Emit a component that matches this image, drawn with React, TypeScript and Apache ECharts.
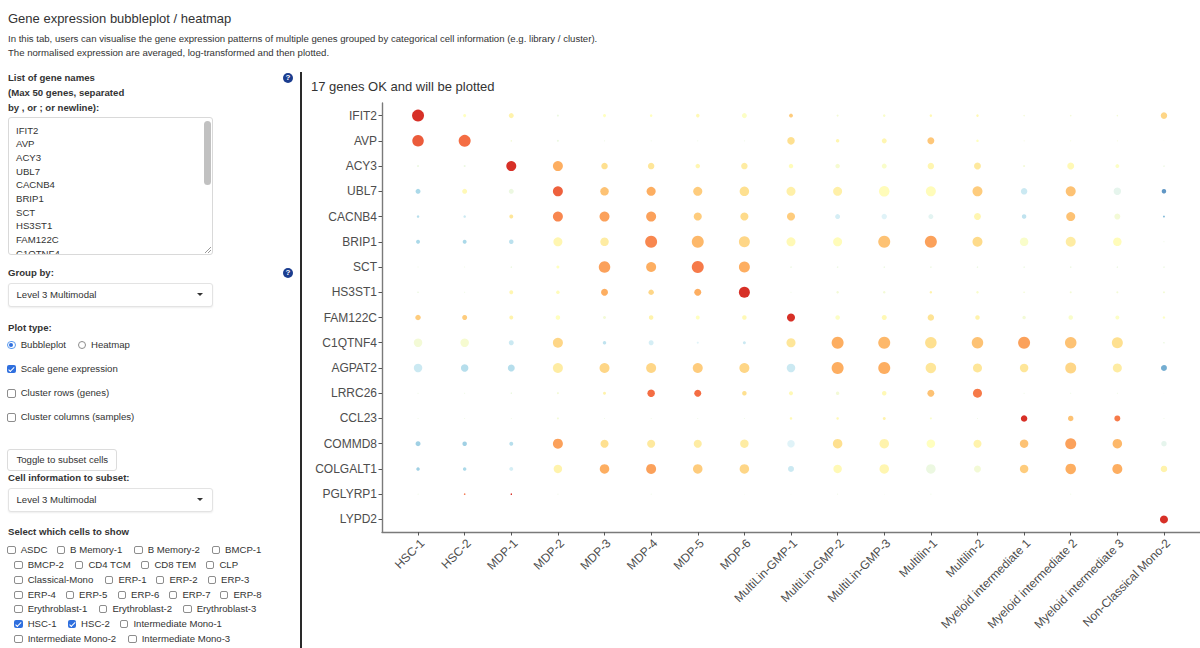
import React, { useEffect, useRef } from "react";
import * as echarts from "echarts";

// ---------------- DATA ----------------
const genes = ["IFIT2", "AVP", "ACY3", "UBL7", "CACNB4", "BRIP1", "SCT", "HS3ST1", "FAM122C", "C1QTNF4", "AGPAT2", "LRRC26", "CCL23", "COMMD8", "COLGALT1", "PGLYRP1", "LYPD2"];
const cells = ["HSC-1", "HSC-2", "MDP-1", "MDP-2", "MDP-3", "MDP-4", "MDP-5", "MDP-6", "MultiLin-GMP-1", "MultiLin-GMP-2", "MultiLin-GMP-3", "Multilin-1", "Multilin-2", "Myeloid intermediate 1", "Myeloid intermediate 2", "Myeloid intermediate 3", "Non-Classical Mono-2"];

// percent of cells expressing (bubble size), per gene, in cell order
const pctIFIT2 = [92, 5.8, 16, 2.6, 5.8, 4, 7.8, 16, 10, 2.6, 4, 4, 4, 1.4, 1.4, 1.4, 27];
const pctAVP = [85, 92, 1.4, 2.6, 0.6, 0.6, 0.6, 0.6, 36, 7.8, 16, 31, 4, 0.6, 0.6, 0.6, 0.2];
const pctACY3 = [2.6, 2.6, 64, 64, 27, 27, 13, 27, 13, 13, 16, 27, 31, 2.6, 31, 10, 1.4];
const pctUBL7 = [16, 16, 16, 64, 46, 52, 52, 58, 52, 52, 71, 64, 64, 27, 64, 36, 13];
const pctCACNB4 = [4, 4, 10, 64, 64, 64, 41, 41, 41, 16, 19, 16, 31, 13, 52, 23, 2.6];
const pctBRIP1 = [10, 10, 13, 52, 46, 92, 92, 77, 52, 52, 92, 92, 64, 46, 64, 46, 0.6];
const pctSCT = [0.6, 0.6, 1.4, 5.8, 85, 64, 92, 77, 1.4, 1.4, 1.4, 1.4, 1.4, 1.4, 1.4, 1.4, 1.4];
const pctHS3ST1 = [1.4, 0.6, 10, 7.8, 31, 19, 31, 77, 0.6, 4, 4, 4, 4, 1.4, 2.6, 2.6, 2.6];
const pctFAM122C = [19, 16, 10, 13, 5.8, 13, 10, 13, 41, 13, 16, 27, 13, 7.8, 13, 10, 4];
const pctC1QTNF4 = [46, 46, 16, 64, 7.8, 16, 2.6, 5.8, 52, 92, 92, 85, 85, 92, 85, 77, 1.4];
const pctAGPAT2 = [46, 36, 31, 64, 64, 64, 64, 64, 46, 92, 92, 71, 52, 46, 77, 52, 23];
const pctLRRC26 = [0.6, 0.6, 1.4, 2.6, 5.8, 36, 31, 13, 10, 7.8, 13, 31, 52, 0.6, 0.6, 0.6, 0.2];
const pctCCL23 = [0.6, 0.6, 0.6, 2.6, 0.6, 0.6, 0.6, 0.6, 4, 4, 5.8, 2.6, 0.6, 27, 19, 23, 0.6];
const pctCOMMD8 = [16, 13, 10, 64, 41, 41, 41, 46, 36, 58, 58, 46, 41, 46, 77, 58, 19];
const pctCOLGALT1 = [7.8, 7.8, 10, 46, 58, 64, 58, 58, 23, 46, 58, 58, 31, 46, 71, 64, 27];
const pctPGLYRP1 = [0.6, 1.4, 1.4, 0.6, 0, 0.6, 0, 0.2, 0.2, 0.6, 0.2, 0.6, 0, 0, 0.6, 0, 0];
const pctLYPD2 = [0, 0, 0, 0, 0, 0, 0, 0, 0, 0, 0, 0, 0, 0, 0, 0, 41];

// scaled average expression (colour), per gene, in cell order
const zIFIT2 = [2.0, 0.0, 0.2, -0.3, 0.0, 0.0, 0.1, -0.05, 0.7, -0.2, -0.1, 0.1, 0.1, -0.2, -0.2, -0.2, 0.6];
const zAVP = [1.65, 1.5, -0.2, -0.3, -0.3, -0.3, -0.3, -0.3, 0.5, 0.15, 0.15, 0.75, 0.0, -0.2, -0.2, -0.2, -0.3];
const zACY3 = [-0.3, -0.3, 2.0, 1.0, 0.5, 0.4, 0.15, 0.3, 0.05, -0.15, -0.1, 0.15, 0.35, -0.2, 0.1, -0.05, -0.3];
const zUBL7 = [-1.0, 0.1, -0.3, 1.6, 0.8, 1.0, 0.7, 0.5, 0.25, 0.25, 0.05, 0.05, 0.7, -0.7, 0.8, -0.4, -1.7];
const zCACNB4 = [-0.9, -0.7, 0.4, 1.3, 1.1, 1.1, 0.7, 0.55, 0.7, -0.6, -0.5, -0.45, 0.15, -0.8, 0.8, -0.2, -1.3];
const zBRIP1 = [-1.0, -1.0, -0.85, 0.15, 0.3, 1.3, 0.9, 0.6, 0.1, 0.05, 0.8, 1.1, 0.55, -0.1, 0.3, 0.05, -0.3];
const zSCT = [-0.3, -0.3, -0.3, 0.0, 1.1, 1.0, 1.4, 1.0, -0.3, -0.3, -0.3, -0.3, -0.3, -0.3, -0.3, -0.3, -0.3];
const zHS3ST1 = [-0.3, -0.3, 0.15, 0.05, 1.0, 0.6, 1.0, 2.0, -0.3, -0.2, -0.2, 0.2, -0.1, -0.2, -0.2, -0.2, -0.2];
const zFAM122C = [0.7, 0.7, 0.2, 0.0, -0.2, 0.2, 0.0, 0.1, 2.0, -0.05, 0.1, 0.45, 0.2, -0.2, -0.1, -0.05, -0.05];
const zC1QTNF4 = [-0.2, -0.15, -0.7, 0.6, -0.8, -0.6, -0.5, -0.7, 0.4, 1.0, 0.9, 0.5, 0.8, 1.1, 0.8, 0.5, -0.3];
const zAGPAT2 = [-0.7, -0.9, -0.9, 0.3, 0.6, 0.6, 0.7, 0.6, -0.7, 1.0, 1.0, 0.4, 0.4, 0.4, 0.6, 0.3, -1.5];
const zLRRC26 = [-0.3, -0.3, -0.3, -0.2, 0.2, 1.5, 1.5, 0.5, 0.1, -0.2, 0.1, 0.8, 1.4, -0.3, -0.3, -0.3, -0.3];
const zCCL23 = [-0.3, -0.3, -0.3, -0.2, -0.3, -0.3, -0.3, -0.3, 0.1, 0.1, 0.2, -0.1, -0.3, 2.0, 0.8, 1.4, -0.3];
const zCOMMD8 = [-1.1, -1.1, -0.9, 1.1, 0.5, 0.35, 0.3, 0.3, -0.5, 0.5, 0.2, 0.0, 0.2, 0.8, 1.1, 0.9, -0.4];
const zCOLGALT1 = [-1.1, -1.0, -0.6, 0.2, 1.0, 1.1, 0.7, 0.6, -0.7, 0.1, 0.15, -0.3, -0.2, 0.7, 1.0, 1.0, 0.2];
const zPGLYRP1 = [-0.3, 1.5, 2.0, -0.3, 0, -0.3, 0, -0.3, -0.3, -0.3, -0.3, -0.3, 0, 0, -0.3, 0, 0];
const zLYPD2 = [0, 0, 0, 0, 0, 0, 0, 0, 0, 0, 0, 0, 0, 0, 0, 0, 2.0];

const pctByGene = [pctIFIT2, pctAVP, pctACY3, pctUBL7, pctCACNB4, pctBRIP1, pctSCT, pctHS3ST1, pctFAM122C, pctC1QTNF4, pctAGPAT2, pctLRRC26, pctCCL23, pctCOMMD8, pctCOLGALT1, pctPGLYRP1, pctLYPD2];
const zByGene = [zIFIT2, zAVP, zACY3, zUBL7, zCACNB4, zBRIP1, zSCT, zHS3ST1, zFAM122C, zC1QTNF4, zAGPAT2, zLRRC26, zCCL23, zCOMMD8, zCOLGALT1, zPGLYRP1, zLYPD2];

// sidebar options
const cellOptions = ["ASDC", "B Memory-1", "B Memory-2", "BMCP-1", "BMCP-2", "CD4 TCM", "CD8 TEM", "CLP", "Classical-Mono", "ERP-1", "ERP-2", "ERP-3", "ERP-4", "ERP-5", "ERP-6", "ERP-7", "ERP-8", "Erythroblast-1", "Erythroblast-2", "Erythroblast-3", "HSC-1", "HSC-2", "Intermediate Mono-1", "Intermediate Mono-2", "Intermediate Mono-3"];
const checkedCells = ["HSC-1", "HSC-2"];
const visibleGeneLines = 10;

// ---------------- LAYOUT / STYLE ----------------
const FONT = '"Liberation Sans", Arial, Helvetica, sans-serif';
const rdylbu = ["#4575b4", "#74add1", "#abd9e9", "#e0f3f8", "#ffffbf", "#fee090", "#fdae61", "#f46d43", "#d73027"];
const optionRows = [[0, 4], [4, 8], [8, 12], [12, 17], [17, 20], [20, 23], [23, 25]];
const optionRowY = [550, 565, 579.5, 594.5, 609, 624, 638.5];
const optionRowX = [
  [7.3, 56.7, 134.3, 211.7],
  [14.3, 75, 141, 206],
  [14.3, 105, 156, 207.7],
  [14.3, 65.7, 117.7, 169, 220],
  [14.3, 99, 183.3],
  [14.3, 67.7, 120],
  [14.3, 128.3],
];

const Txt = (p: { x: number; y: number; size?: number; bold?: boolean; children: any }) => {
  const lh = Math.round((p.size ?? 9.6) * 1.25);
  return (
    <div style={{ position: "absolute", left: p.x, top: p.y - lh / 2, height: lh, lineHeight: lh + "px", fontSize: p.size ?? 9.6, fontWeight: p.bold ? "bold" : "normal", whiteSpace: "nowrap", color: "#333" }}>{p.children}</div>
  );
};

const Box = (p: { x: number; y: number; checked?: boolean }) => (
  <div style={{ position: "absolute", left: p.x, top: p.y - 4, width: 8.4, height: 8.4, boxSizing: "border-box", borderRadius: 2, border: p.checked ? "none" : "1px solid #8d8d8d", background: p.checked ? "#2f6fde" : "#fff" }}>
    {p.checked && <div style={{ position: "absolute", left: 2.9, top: 0.9, width: 2.2, height: 4.6, borderRight: "1.4px solid #fff", borderBottom: "1.4px solid #fff", transform: "rotate(45deg)" }} />}
  </div>
);

const Radio = (p: { x: number; y: number; on?: boolean }) => (
  <div style={{ position: "absolute", left: p.x, top: p.y - 4.2, width: 8.4, height: 8.4, boxSizing: "border-box", borderRadius: "50%", border: p.on ? "1px solid #5a9bf0" : "1px solid #8d8d8d", background: "#fff" }}>
    {p.on && <div style={{ position: "absolute", left: 1.2, top: 1.2, width: 4, height: 4, borderRadius: "50%", background: "#2f6fde" }} />}
  </div>
);

const Help = (p: { y: number }) => (
  <div style={{ position: "absolute", left: 283, top: p.y - 5, width: 10, height: 10, borderRadius: "50%", background: "#1b3d8f", color: "#fff", fontSize: 8, fontWeight: "bold", lineHeight: "10px", textAlign: "center" }}>?</div>
);

const Select = (p: { y: number; h: number; label: string }) => (
  <div style={{ position: "absolute", left: 7.5, top: p.y, width: 205.5, height: p.h, boxSizing: "border-box", border: "1px solid #e3e3e3", borderRadius: 3, boxShadow: "0 1px 2px rgba(0,0,0,0.07)", background: "#fff" }}>
    <div style={{ position: "absolute", left: 8, top: (p.h - 2) / 2 - 6, height: 12, lineHeight: "12px", fontSize: 9.6, color: "#333", whiteSpace: "nowrap" }}>{p.label}</div>
    <div style={{ position: "absolute", left: 188, top: (p.h - 2) / 2 - 1.5, width: 0, height: 0, borderLeft: "3px solid transparent", borderRight: "3px solid transparent", borderTop: "3.5px solid #333" }} />
  </div>
);

function BubbleChart() {
  const ref = useRef<HTMLDivElement>(null);
  useEffect(() => {
    if (!ref.current) return;
    const chart = echarts.init(ref.current, null, { renderer: "svg" });
    const data: any[] = [];
    genes.forEach((g, gi) => {
      cells.forEach((c, ci) => {
        const p = pctByGene[gi][ci];
        if (p > 0) data.push([ci, gi, p, zByGene[gi][ci]]);
      });
    });
    const idxX = cells.map((_, i) => i);
    const idxY = genes.map((_, i) => i);
    chart.setOption({
      animation: false,
      textStyle: { fontFamily: FONT },
      grid: { left: 80, top: 28, width: 818, height: 429, containLabel: false },
      visualMap: {
        type: "continuous",
        show: false,
        dimension: 3,
        min: -2,
        max: 2,
        seriesIndex: 0,
        inRange: { color: rdylbu },
      },
      xAxis: {
        type: "value",
        min: -0.773,
        max: 16.773,
        splitLine: { show: false },
        axisLine: { show: true, onZero: false, lineStyle: { color: "#7a7a7a", width: 1.4 } },
        axisTick: { show: true, customValues: idxX, length: 3.5, lineStyle: { color: "#555", width: 1 } },
        axisLabel: {
          customValues: idxX,
          formatter: (v: number) => cells[Math.round(v)] ?? "",
          rotate: 45,
          align: "right",
          verticalAlign: "top",
          margin: 5,
          fontSize: 12,
          color: "#4d4d4d",
          fontFamily: FONT,
        },
      },
      yAxis: {
        type: "value",
        inverse: true,
        min: -0.5,
        max: 16.5,
        splitLine: { show: false },
        axisLine: { show: true, onZero: false, lineStyle: { color: "#7a7a7a", width: 1.4 } },
        axisTick: { show: true, customValues: idxY, length: 3.5, lineStyle: { color: "#555", width: 1 } },
        axisLabel: {
          customValues: idxY,
          formatter: (v: number) => genes[Math.round(v)] ?? "",
          margin: 5,
          fontSize: 12,
          color: "#4d4d4d",
          fontFamily: FONT,
        },
      },
      series: [
        {
          type: "scatter",
          data,
          symbol: "circle",
          symbolSize: (v: number[]) => 1.25 * Math.sqrt(v[2]),
          silent: true,
          itemStyle: { opacity: 1 },
        },
      ],
    });
    return () => chart.dispose();
  }, []);
  return <div ref={ref} style={{ position: "absolute", left: 302, top: 75, width: 898, height: 573 }} />;
}

export default function App() {
  return (
    <div style={{ position: "absolute", left: 0, top: 0, width: 1200, height: 648, overflow: "hidden", background: "#fff", fontFamily: FONT, color: "#333" }}>
      <Txt x={8} y={19} size={13}>Gene expression bubbleplot / heatmap</Txt>
      <Txt x={8} y={39}>In this tab, users can visualise the gene expression patterns of multiple genes grouped by categorical cell information (e.g. library / cluster).</Txt>
      <Txt x={8} y={52.5}>The normalised expression are averaged, log-transformed and then plotted.</Txt>

      <Txt x={8} y={78} bold>List of gene names</Txt>
      <Txt x={8} y={93} bold>(Max 50 genes, separated</Txt>
      <Txt x={8} y={107.5} bold>by , or ; or newline):</Txt>
      <Help y={78} />

      <div style={{ position: "absolute", left: 7.5, top: 117, width: 205.5, height: 138, boxSizing: "border-box", border: "1px solid #d9d9d9", borderRadius: 3, overflow: "hidden", background: "#fff" }}>
        {genes.slice(0, visibleGeneLines).map((g, i) => (
          <div key={g} style={{ position: "absolute", left: 7.5, top: 5.5 + i * 13.7, lineHeight: "13.7px", fontSize: 9.6, color: "#333" }}>{g}</div>
        ))}
        <div style={{ position: "absolute", left: 195.5, top: 3, width: 7, height: 64, borderRadius: 4, background: "#c1c1c1" }} />
        <div style={{ position: "absolute", right: 1, bottom: 1, width: 6, height: 6, background: "linear-gradient(135deg, transparent 45%, #999 45%, #999 55%, transparent 55%, transparent 70%, #999 70%, #999 80%, transparent 80%)" }} />
      </div>

      <Txt x={8} y={273} bold>Group by:</Txt>
      <Help y={273} />
      <Select y={283} h={23.5} label="Level 3 Multimodal" />

      <Txt x={8} y={327.5} bold>Plot type:</Txt>
      <Radio x={7.3} y={345} on />
      <Txt x={20.7} y={345}>Bubbleplot</Txt>
      <Radio x={77.5} y={345} />
      <Txt x={91} y={345}>Heatmap</Txt>

      <Box x={7.3} y={369} checked />
      <Txt x={20.7} y={369}>Scale gene expression</Txt>
      <Box x={7.3} y={393.3} />
      <Txt x={20.7} y={393.3}>Cluster rows (genes)</Txt>
      <Box x={7.3} y={417.3} />
      <Txt x={20.7} y={417.3}>Cluster columns (samples)</Txt>

      <div style={{ position: "absolute", left: 7.3, top: 449, width: 110, height: 22, boxSizing: "border-box", border: "1px solid #dcdcdc", borderRadius: 3, background: "#fff", fontSize: 9.6, lineHeight: "20px", textAlign: "center", color: "#333", whiteSpace: "nowrap" }}>Toggle to subset cells</div>

      <Txt x={8} y={478.3} bold>Cell information to subset:</Txt>
      <Select y={488.3} h={23.4} label="Level 3 Multimodal" />

      <Txt x={8} y={532.3} bold>Select which cells to show</Txt>
      {optionRows.map(([a, b], ri) =>
        cellOptions.slice(a, b).map((c, k) => (
          <React.Fragment key={c}>
            <Box x={optionRowX[ri][k]} y={optionRowY[ri]} checked={checkedCells.includes(c)} />
            <Txt x={optionRowX[ri][k] + 13.4} y={optionRowY[ri]}>{c}</Txt>
          </React.Fragment>
        ))
      )}

      <div style={{ position: "absolute", left: 300, top: 72, width: 2, height: 576, background: "#2a2a2a" }} />
      <Txt x={311} y={87} size={13}>17 genes OK and will be plotted</Txt>
      <BubbleChart />
    </div>
  );
}
